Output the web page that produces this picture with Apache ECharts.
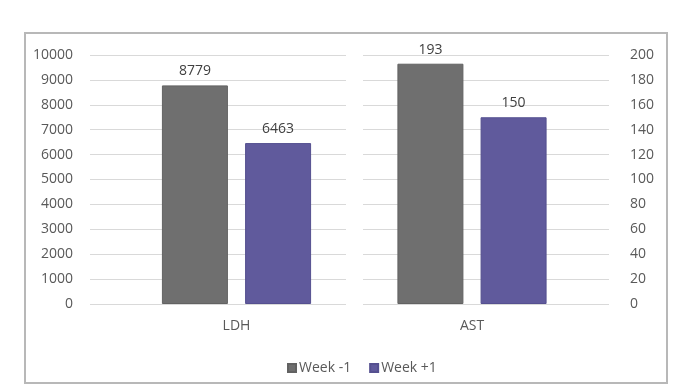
<!DOCTYPE html>
<html>
<head>
<meta charset="utf-8">
<script src="https://cdn.jsdelivr.net/npm/echarts@6/dist/echarts.min.js"></script>
<style>html,body{margin:0;padding:0;background:#fff;}#c{width:695px;height:390px;}</style>
</head>
<body>
<div id="c"></div>
<script>
const categories = ['LDH', 'AST'];
const seriesNames = ['Week -1', 'Week +1'];
const weekMinus1 = [8779, 193];
const weekPlus1 = [6463, 150];
const leftAxis = { min: 0, max: 10000, interval: 1000 };
const rightAxis = { min: 0, max: 200, interval: 20 };

const FONT = "'Open Sans', 'Liberation Sans', sans-serif";
const colors = ['#6f6f6f', '#605a9c'];
const borders = ['#626262', '#555090'];

const chart = echarts.init(document.getElementById('c'), null, { renderer: 'canvas' });

function barSeries(i, name, val, axisIdx) {
  return {
    name: name, type: 'bar', xAxisIndex: axisIdx, yAxisIndex: axisIdx,
    data: [val], barWidth: 66, barGap: '26%',
    itemStyle: { color: colors[i], borderColor: borders[i], borderWidth: 1 },
    label: { show: true, position: 'top', distance: 7, color: '#404040', fontFamily: FONT, fontSize: 14 },
    z: 3
  };
}

const hiddenX = (gi) => ({ type: 'category', gridIndex: gi, data: [''], show: false });
const catX = (gi, name) => ({
  type: 'category', gridIndex: gi, data: [name],
  axisLine: { show: false }, axisTick: { show: false },
  axisLabel: { margin: 15, color: '#595959', fontFamily: FONT, fontSize: 14 }
});
const plain = (v) => String(v);

chart.setOption({
  animation: false,
  backgroundColor: '#fff',
  graphic: [{
    type: 'rect', shape: { x: 25, y: 33, width: 642, height: 350 },
    style: { fill: 'none', stroke: '#b8b8b8', lineWidth: 2 }, z: 100
  }],
  legend: {
    left: 282, top: 356, itemWidth: 8, itemHeight: 8, itemGap: 18,
    icon: 'rect', data: seriesNames,
    textStyle: { color: '#595959', fontFamily: FONT, fontSize: 14, padding: [0, 0, 0, -2] }
  },
  grid: [
    { left: 90, right: 695 - 383, top: 55, bottom: 86 },
    { left: 90, right: 695 - 346, top: 55, bottom: 86 },
    { left: 335, right: 86, top: 55, bottom: 86 },
    { left: 363, right: 86, top: 55, bottom: 86 }
  ],
  xAxis: [catX(0, categories[0]), hiddenX(1), catX(2, categories[1]), hiddenX(3)],
  yAxis: [
    Object.assign({ type: 'value', gridIndex: 0, show: false }, leftAxis),
    Object.assign({
      type: 'value', gridIndex: 1, position: 'left',
      axisLine: { show: false }, axisTick: { show: false },
      axisLabel: { margin: 17, color: '#595959', fontFamily: FONT, fontSize: 14, formatter: plain },
      splitLine: { lineStyle: { color: '#d9d9d9', width: 1 } }
    }, leftAxis),
    Object.assign({ type: 'value', gridIndex: 2, show: false }, rightAxis),
    Object.assign({
      type: 'value', gridIndex: 3, position: 'right',
      axisLine: { show: false }, axisTick: { show: false },
      axisLabel: { margin: 21, color: '#595959', fontFamily: FONT, fontSize: 14, formatter: plain },
      splitLine: { lineStyle: { color: '#d9d9d9', width: 1 } }
    }, rightAxis)
  ],
  series: [
    barSeries(0, seriesNames[0], weekMinus1[0], 0),
    barSeries(1, seriesNames[1], weekPlus1[0], 0),
    barSeries(0, seriesNames[0], weekMinus1[1], 2),
    barSeries(1, seriesNames[1], weekPlus1[1], 2)
  ]
});
</script>
</body>
</html>
